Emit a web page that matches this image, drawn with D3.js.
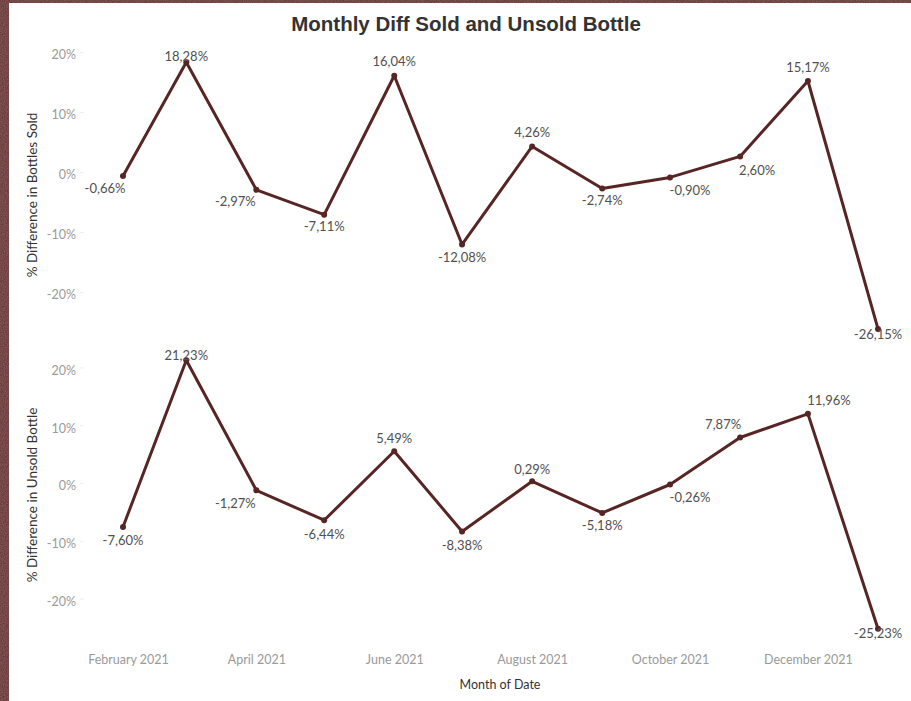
<!DOCTYPE html>
<html>
<head>
<meta charset="utf-8">
<script src="https://cdn.jsdelivr.net/npm/d3@7"></script>
<style>
  html, body { margin: 0; padding: 0; background: #fff; }
  svg { display: block; }
</style>
</head>
<body>
<svg id="chart" width="911" height="701"></svg>
<script>
// Months (first day of each month)
const months = ["2021-02", "2021-03", "2021-04", "2021-05", "2021-06", "2021-07",
                "2021-08", "2021-09", "2021-10", "2021-11", "2021-12", "2022-01"];
// % difference month over month
const soldDiff   = [-0.66, 18.28, -2.97, -7.11, 16.04, -12.08, 4.26, -2.74, -0.90, 2.60, 15.17, -26.15];
const unsoldDiff = [-7.60, 21.23, -1.27, -6.44, 5.49, -8.38, 0.29, -5.18, -0.26, 7.87, 11.96, -25.23];
const yTicks = [20, 10, 0, -10, -20];
const xTickMonths = ["2021-02", "2021-04", "2021-06", "2021-08", "2021-10", "2021-12"];

// label offsets (dx, dy) relative to each point
const soldLabelPos = [[-18, 12], [0, -6], [-21, 12], [0, 12], [0, -14], [0, 12.5],
                      [0, -14], [0, 12], [20, 13], [17, 14], [0, -14], [0, 6]];
const unsoldLabelPos = [[0, 14], [0, -5], [-21, 13], [0, 14], [0, -13], [0, 14],
                        [0, -12], [0, 13], [20, 13], [-17, -13], [21, -13], [0, 5]];

const parse = d3.timeParse("%Y-%m");
const dates = months.map(parse);

const locale = d3.formatLocale({decimal: ",", thousands: ".", grouping: [3], currency: ["", ""], minus: "-"});
const fmtPct = v => locale.format(".2f")(v) + "%";

const svg = d3.select("#chart");
const W = 911, H = 701;

// textured frame
const defs = svg.append("defs");
const f = defs.append("filter").attr("id", "grain").attr("x", 0).attr("y", 0).attr("width", 1).attr("height", 1);
f.append("feTurbulence").attr("type", "fractalNoise").attr("baseFrequency", 0.9).attr("numOctaves", 2).attr("result", "n");
f.append("feColorMatrix").attr("in", "n").attr("type", "matrix")
  .attr("values", "0 0 0 0 0.55  0 0 0 0 0.3  0 0 0 0 0.3  0 0 0 0.35 0").attr("result", "c");
f.append("feComposite").attr("in", "c").attr("in2", "SourceGraphic").attr("operator", "over");
svg.append("rect").attr("width", W).attr("height", H).attr("fill", "#5a2222").attr("filter", "url(#grain)");
svg.append("rect").attr("x", 9).attr("y", 3).attr("width", W - 9).attr("height", H - 3).attr("fill", "#ffffff");

const x = d3.scaleTime()
  .domain([dates[0], dates[dates.length - 1]])
  .range([123, 878]);

const panels = [
  {values: soldDiff, labelPos: soldLabelPos, title: "% Difference in Bottles Sold", titleY: 195,
   y: d3.scaleLinear().domain([0, 10]).range([172, 112])},
  {values: unsoldDiff, labelPos: unsoldLabelPos, title: "% Difference in Unsold Bottle", titleY: 495,
   y: d3.scaleLinear().domain([0, 10]).range([483, 425.2])}
];

const lineColor = "#582525";
const font = "Lato, 'Open Sans', sans-serif";

svg.append("text")
  .attr("x", 466).attr("y", 31)
  .attr("text-anchor", "middle")
  .attr("font-family", "'Liberation Sans', Arial, sans-serif")
  .attr("font-weight", "bold")
  .attr("font-size", 20.5)
  .attr("fill", "#333333")
  .text("Monthly Diff Sold and Unsold Bottle");

panels.forEach(p => {
  const g = svg.append("g");

  // y axis
  const axis = d3.axisLeft(p.y).tickValues(yTicks).tickSize(4).tickPadding(4)
    .tickFormat(d => d + "%");
  const ag = g.append("g").attr("transform", "translate(84,0)").call(axis);
  ag.select(".domain").remove();
  ag.selectAll(".tick line").attr("stroke", "#eeeeee");
  ag.selectAll(".tick text")
    .attr("dy", "0.55em")
    .attr("fill", "#9a9a9a")
    .attr("font-family", font)
    .attr("font-size", 12.5);

  g.append("text")
    .attr("transform", `translate(37,${p.titleY}) rotate(-90)`)
    .attr("text-anchor", "middle")
    .attr("font-family", font)
    .attr("font-size", 13.5)
    .attr("fill", "#333333")
    .text(p.title);

  const line = d3.line().x((d, i) => x(dates[i])).y(d => p.y(d));
  g.append("path")
    .datum(p.values)
    .attr("d", line)
    .attr("fill", "none")
    .attr("stroke", lineColor)
    .attr("stroke-width", 3)
    .attr("stroke-linejoin", "round");

  g.selectAll("circle").data(p.values).join("circle")
    .attr("cx", (d, i) => x(dates[i]))
    .attr("cy", d => p.y(d))
    .attr("r", 3)
    .attr("fill", lineColor);

  g.selectAll("text.lbl").data(p.values).join("text")
    .attr("class", "lbl")
    .attr("x", (d, i) => x(dates[i]) + p.labelPos[i][0])
    .attr("y", (d, i) => p.y(d) + p.labelPos[i][1])
    .attr("dy", "0.35em")
    .attr("text-anchor", "middle")
    .attr("font-family", font)
    .attr("font-size", 13)
    .attr("fill", "#505050")
    .text(d => fmtPct(d));
});

// x axis labels
const xa = svg.append("g").attr("transform", "translate(0,651)")
  .call(d3.axisBottom(x).tickValues(xTickMonths.map(parse)).tickSize(0).tickPadding(4)
    .tickFormat(d3.timeFormat("%B %Y")));
xa.select(".domain").remove();
xa.selectAll(".tick text")
  .attr("dx", (d, i) => i === 0 ? 5 : 0)
  .attr("fill", "#9a9a9a")
  .attr("font-family", font)
  .attr("font-size", 12.5);

svg.append("text")
  .attr("x", 500).attr("y", 689)
  .attr("text-anchor", "middle")
  .attr("font-family", font)
  .attr("font-size", 12.5)
  .attr("fill", "#333333")
  .text("Month of Date");
</script>
</body>
</html>
